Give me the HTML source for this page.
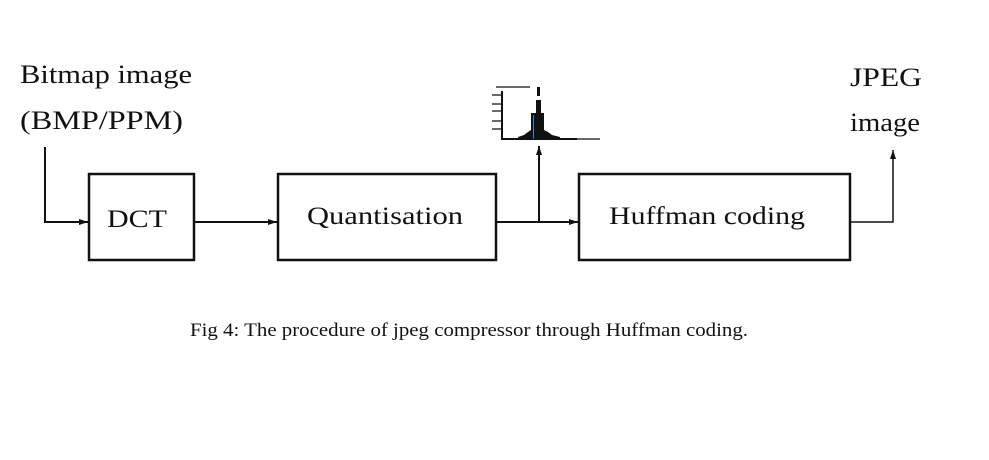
<!DOCTYPE html>
<html><head><style>
html,body{margin:0;padding:0;background:#fff;}
svg{display:block;}
.t{font-family:"Liberation Serif",serif;fill:#111;}
</style></head><body>
<svg width="989" height="460" viewBox="0 0 989 460" xmlns="http://www.w3.org/2000/svg">
<defs><marker id="a" markerWidth="10" markerHeight="8" refX="9" refY="4" orient="auto" markerUnits="userSpaceOnUse"><path d="M0,1 L9,4 L0,7 Z" fill="#111"/></marker></defs>
<g stroke="#111" fill="none">
<rect x="89" y="174" width="105" height="86" stroke-width="2.5"/>
<rect x="278" y="174" width="218" height="86" stroke-width="2.5"/>
<rect x="579" y="174" width="271" height="86" stroke-width="2.5"/>
<path d="M45,147 V222 H88" stroke-width="2" marker-end="url(#a)"/>
<path d="M195,222 H277" stroke-width="2" marker-end="url(#a)"/>
<path d="M497,222 H578" stroke-width="2" marker-end="url(#a)"/>
<path d="M539,222 V146" stroke-width="2" marker-end="url(#a)"/>
<path d="M851,222 H893 V150" stroke-width="1.5" marker-end="url(#a)"/>
<path d="M502,91 V139 H577" stroke-width="2"/>
<path d="M492,95 H502 M492,104 H502 M492,111 H502 M492,121 H502 M492,129 H502 M496,87 H530 M577,139 H600" stroke-width="1.2"/>
</g>
<path d="M518,139 L518,137 L524,135 L528,132 L531,130 L531,113 L536,113 L536,100 L541,100 L541,113 L544,113 L544,130 L548,132 L552,135 L560,137 L560,139 Z" fill="#111"/>
<rect x="537" y="87" width="3" height="9" fill="#111"/>
<line x1="533.5" y1="115" x2="533.5" y2="139" stroke="#3a7fd0" stroke-width="1"/>
<text class="t" x="20" y="83" font-size="26" textLength="172" lengthAdjust="spacingAndGlyphs">Bitmap image</text>
<text class="t" x="20" y="129" font-size="26" textLength="163" lengthAdjust="spacingAndGlyphs">(BMP/PPM)</text>
<text class="t" x="850" y="86" font-size="26" textLength="72" lengthAdjust="spacingAndGlyphs">JPEG</text>
<text class="t" x="850" y="131" font-size="26" textLength="70" lengthAdjust="spacingAndGlyphs">image</text>
<text class="t" x="107" y="227" font-size="25" textLength="60" lengthAdjust="spacingAndGlyphs">DCT</text>
<text class="t" x="307" y="224" font-size="25" textLength="156" lengthAdjust="spacingAndGlyphs">Quantisation</text>
<text class="t" x="609" y="224" font-size="25" textLength="196" lengthAdjust="spacingAndGlyphs">Huffman coding</text>
<text class="t" x="190" y="336" font-size="19" textLength="558" lengthAdjust="spacingAndGlyphs">Fig 4: The procedure of jpeg compressor through Huffman coding.</text>
</svg>
</body></html>
